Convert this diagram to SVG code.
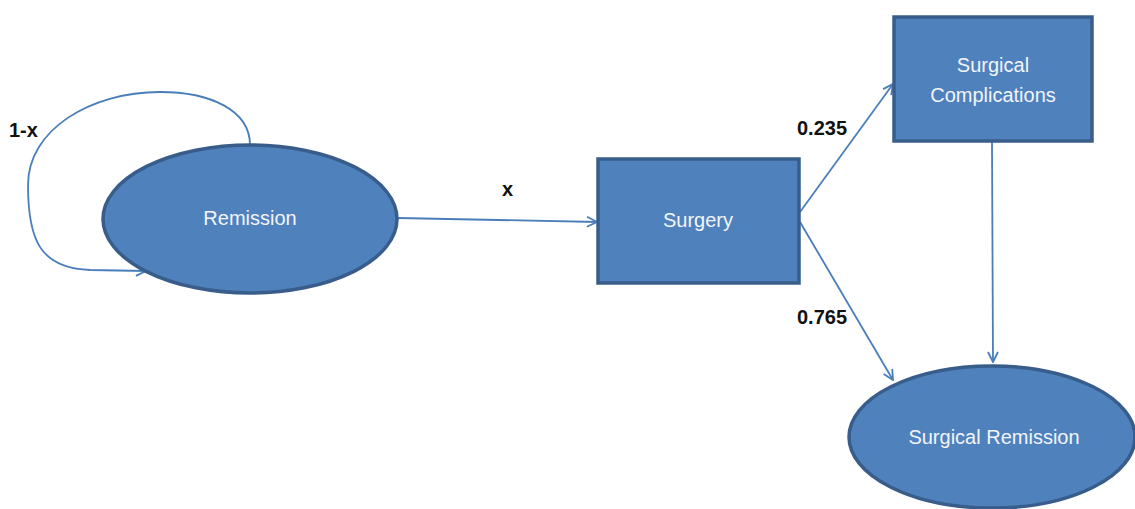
<svg xmlns="http://www.w3.org/2000/svg" width="1135" height="509" viewBox="0 0 1135 509">
<style>
.node{fill:#4F81BD;stroke:#385D8A;stroke-width:3.5}
.nt{font-family:"Liberation Sans",Arial,sans-serif;font-size:20px;fill:#F2F5FA;text-anchor:middle}
.lbl{font-family:"Liberation Sans",Arial,sans-serif;font-size:20px;fill:#111;font-weight:bold}
.conn{fill:none;stroke:#4A7EBB;stroke-width:1.8}
</style>
<defs>
<marker id="ah" viewBox="0 0 12 12" refX="11" refY="6" markerWidth="12" markerHeight="12" markerUnits="userSpaceOnUse" orient="auto">
<path d="M1,1 L11,6 L1,11" fill="none" stroke="#4A7EBB" stroke-width="1.8"/>
</marker>
</defs>
<g id="connectors">
<path class="conn" d="M250,145 C250,110 210,92 160,92 C90,92 28,130 28,185 C28,240 40,268 90,270 L146,271" marker-end="url(#ah)"/>
<path class="conn" d="M398,218 L597,222" marker-end="url(#ah)"/>
<path class="conn" d="M800,212 L893,84" marker-end="url(#ah)"/>
<path class="conn" d="M800,222 L893,380" marker-end="url(#ah)"/>
<path class="conn" d="M992,142 L993,362" marker-end="url(#ah)"/>
</g>
<g id="remission">
<ellipse class="node" cx="250" cy="219" rx="147" ry="74"/>
<text class="nt" x="250" y="225">Remission</text>
</g>
<g id="surgery">
<rect class="node" x="598" y="159" width="201" height="124"/>
<text class="nt" x="698" y="227">Surgery</text>
</g>
<g id="complications">
<rect class="node" x="894" y="17" width="198" height="124"/>
<text class="nt" x="993" y="72">Surgical</text>
<text class="nt" x="993" y="102">Complications</text>
</g>
<g id="surgical-remission">
<ellipse class="node" cx="992" cy="437" rx="143" ry="71"/>
<text class="nt" x="994" y="444">Surgical Remission</text>
</g>
<g id="labels">
<text class="lbl" x="9" y="137">1-x</text>
<text class="lbl" x="502" y="196">x</text>
<text class="lbl" x="797" y="135">0.235</text>
<text class="lbl" x="797" y="324">0.765</text>
</g>
</svg>
